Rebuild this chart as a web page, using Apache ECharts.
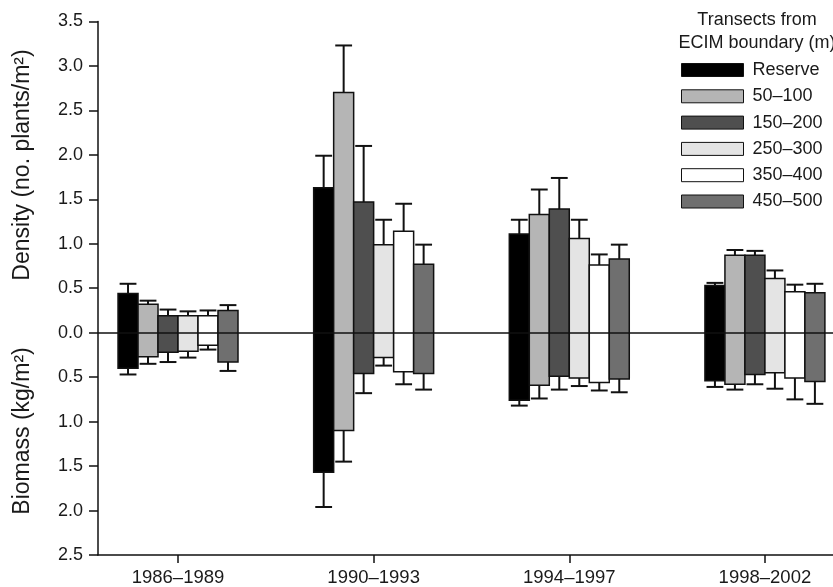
<!DOCTYPE html>
<html>
<head>
<meta charset="utf-8">
<script src="https://cdn.jsdelivr.net/npm/echarts@6/dist/echarts.min.js"></script>
<style>
  html, body { margin: 0; padding: 0; background: #fff; }
  #chart { width: 833px; height: 587px; }
</style>
</head>
<body>
<div id="chart"></div>
<script>
// Sampling periods (x categories) and transect distance classes (series)
const periods = ['1986–1989', '1990–1993', '1994–1997', '1998–2002'];
const transects = ['Reserve', '50–100', '150–200', '250–300', '350–400', '450–500'];
const fills = ['#000000', '#b5b5b5', '#4f4f4f', '#e4e4e4', '#ffffff', '#6f6f6f'];

// Density (no. plants/m²), one row per transect, one column per period
const densityMean = [
  [0.44, 1.63, 1.11, 0.53],
  [0.32, 2.70, 1.33, 0.87],
  [0.19, 1.47, 1.39, 0.87],
  [0.19, 0.99, 1.06, 0.61],
  [0.19, 1.14, 0.76, 0.46],
  [0.25, 0.77, 0.83, 0.45]
];
const densitySE = [
  [0.11, 0.36, 0.16, 0.03],
  [0.04, 0.53, 0.28, 0.06],
  [0.07, 0.63, 0.35, 0.05],
  [0.05, 0.28, 0.21, 0.09],
  [0.06, 0.31, 0.12, 0.08],
  [0.06, 0.22, 0.16, 0.10]
];

// Biomass (kg/m²), drawn below the zero line
const biomassMean = [
  [0.40, 1.57, 0.76, 0.54],
  [0.27, 1.10, 0.59, 0.58],
  [0.22, 0.46, 0.49, 0.47],
  [0.21, 0.28, 0.51, 0.45],
  [0.14, 0.44, 0.56, 0.51],
  [0.33, 0.46, 0.52, 0.55]
];
const biomassSE = [
  [0.07, 0.39, 0.06, 0.07],
  [0.08, 0.35, 0.15, 0.06],
  [0.11, 0.22, 0.15, 0.11],
  [0.07, 0.09, 0.09, 0.18],
  [0.05, 0.14, 0.09, 0.24],
  [0.10, 0.18, 0.15, 0.25]
];

const yTicks = [-2.5, -2, -1.5, -1, -0.5, 0, 0.5, 1, 1.5, 2, 2.5, 3, 3.5];

const FONT = 'Liberation Sans, Arial, Helvetica, sans-serif';
const INK = '#1a1a1a';
const BAR_W = 0.1022;   // bar width in period units
const CAP_W = 0.086;    // error cap width in period units

function renderItem(params, api) {
  const s = params.seriesIndex;
  const g = api.value(0);
  const dens = api.value(1), dSe = api.value(2);
  const bio = api.value(3), bSe = api.value(4);
  const xc = g + (s - 2.5) * BAR_W;

  const tl = api.coord([xc - BAR_W / 2, dens]);
  const br = api.coord([xc + BAR_W / 2, -bio]);
  const up0 = api.coord([xc, dens]);
  const up1 = api.coord([xc, dens + dSe]);
  const dn0 = api.coord([xc, -bio]);
  const dn1 = api.coord([xc, -bio - bSe]);
  const capL = api.coord([xc - CAP_W / 2, 0])[0];
  const capR = api.coord([xc + CAP_W / 2, 0])[0];
  const errStyle = { stroke: '#111', lineWidth: 2 };

  return {
    type: 'group',
    children: [
      { type: 'line', shape: { x1: up0[0], y1: up0[1], x2: up1[0], y2: up1[1] }, style: errStyle },
      { type: 'line', shape: { x1: capL, y1: up1[1], x2: capR, y2: up1[1] }, style: errStyle },
      { type: 'line', shape: { x1: dn0[0], y1: dn0[1], x2: dn1[0], y2: dn1[1] }, style: errStyle },
      { type: 'line', shape: { x1: capL, y1: dn1[1], x2: capR, y2: dn1[1] }, style: errStyle },
      {
        type: 'rect',
        shape: { x: tl[0], y: tl[1], width: br[0] - tl[0], height: br[1] - tl[1] },
        style: { fill: fills[s], stroke: '#111', lineWidth: 1.5 }
      }
    ]
  };
}

const series = transects.map((name, s) => ({
  name: name,
  type: 'custom',
  renderItem: renderItem,
  itemStyle: { color: fills[s], borderColor: '#111', borderWidth: 1 },
  encode: { x: 0, y: 1 },
  data: periods.map((p, g) => [g, densityMean[s][g], densitySE[s][g], biomassMean[s][g], biomassSE[s][g]]),
  z: 2
}));

// zero reference line across the plot
series.push({
  type: 'line',
  silent: true,
  data: [],
  z: 10,
  markLine: {
    silent: true,
    symbol: ['none', 'none'],
    label: { show: false },
    lineStyle: { color: '#111', width: 1.5, type: 'solid' },
    data: [{ yAxis: 0 }]
  }
});

const chart = echarts.init(document.getElementById('chart'), null, { renderer: 'canvas' });
chart.setOption({
  animation: false,
  backgroundColor: '#ffffff',
  textStyle: { fontFamily: FONT },
  grid: { left: 98, right: 0, top: 21.45, bottom: 30, containLabel: false },
  xAxis: {
    type: 'value',
    min: -0.409,
    max: 3.348,
    axisLine: { onZero: false, lineStyle: { color: '#111', width: 1.5 } },
    axisTick: { show: true, length: 8, lineStyle: { color: '#111', width: 1.5 }, customValues: [0, 1, 2, 3] },
    axisLabel: {
      customValues: [0, 1, 2, 3],
      formatter: v => periods[Math.round(v)],
      color: INK, fontSize: 18.5, fontFamily: FONT, margin: 13
    },
    splitLine: { show: false }
  },
  yAxis: {
    type: 'value',
    min: -2.5,
    max: 3.5,
    interval: 0.5,
    axisLine: { show: true, onZero: false, lineStyle: { color: '#111', width: 1.5 } },
    axisTick: { show: true, length: 9, lineStyle: { color: '#111', width: 1.5 } },
    axisLabel: {
      customValues: yTicks,
      formatter: v => Math.abs(v).toFixed(1),
      color: INK, fontSize: 18, fontFamily: FONT, margin: 15
    },
    splitLine: { show: false }
  },
  legend: {
    data: transects,
    orient: 'vertical',
    left: 681,
    top: 61,
    padding: 0,
    itemWidth: 62,
    itemHeight: 13,
    itemGap: 8.3,
    icon: 'rect',
    selectedMode: false,
    itemStyle: { borderColor: '#111', borderWidth: 1 },
    textStyle: { color: INK, fontSize: 18, fontFamily: FONT, lineHeight: 18, padding: [0, 0, 0, 4] }
  },
  graphic: [
    {
      type: 'text', x: 757, y: 20,
      style: { text: 'Transects from', font: '18px ' + FONT, fill: INK, textAlign: 'center', textVerticalAlign: 'middle' }
    },
    {
      type: 'text', x: 757, y: 43,
      style: { text: 'ECIM boundary (m)', font: '18px ' + FONT, fill: INK, textAlign: 'center', textVerticalAlign: 'middle' }
    },
    {
      type: 'text', x: 23, y: 165, rotation: Math.PI / 2,
      style: { text: 'Density (no. plants/m²)', font: '23px ' + FONT, fill: INK, textAlign: 'center', textVerticalAlign: 'middle' }
    },
    {
      type: 'text', x: 23, y: 431, rotation: Math.PI / 2,
      style: { text: 'Biomass (kg/m²)', font: '23px ' + FONT, fill: INK, textAlign: 'center', textVerticalAlign: 'middle' }
    }
  ],
  series: series
});
</script>
</body>
</html>
